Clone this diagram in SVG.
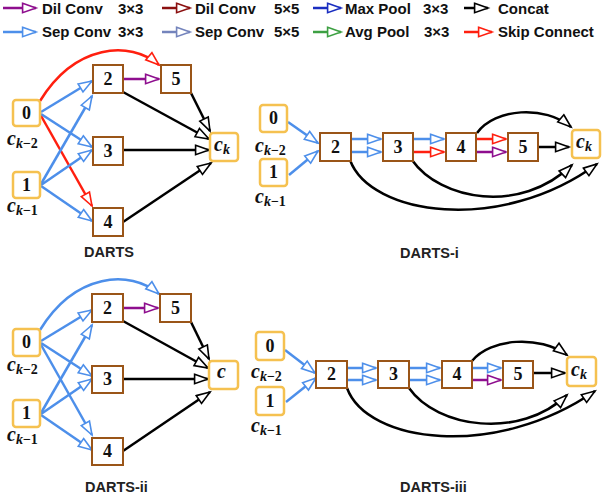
<svg xmlns="http://www.w3.org/2000/svg" width="602" height="501" viewBox="0 0 602 501">
<style>
.leg{font-family:"Liberation Sans",Arial,sans-serif;font-weight:bold;font-size:15px;fill:#111}
.cap{font-family:"Liberation Sans",Arial,sans-serif;font-weight:bold;font-size:14.5px;fill:#222}
.in{fill:#fff;stroke:#F5C150;stroke-width:2.5}
.op{fill:#fff;stroke:#9A5518;stroke-width:2}
.num{font-family:"Liberation Serif","Times New Roman",serif;font-weight:bold;font-size:18px;fill:#111;text-anchor:middle}
.cl{font-family:"Liberation Serif","Times New Roman",serif;font-weight:bold;font-style:italic;font-size:20px;fill:#111}
.sub{font-size:14px}
.up{font-style:normal}
.e{fill:none;stroke-width:2.5}
.b{stroke:#4D8FEA;marker-end:url(#mb)}
.r{stroke:#FF1F0F;marker-end:url(#mr)}
.p{stroke:#8E0E8E;marker-end:url(#mp)}
.k{stroke:#000;marker-end:url(#mk)}
.m{stroke:#8B1010;marker-end:url(#mm)}
.d{stroke:#1A2EC0;marker-end:url(#md)}
.s{stroke:#7484BC;marker-end:url(#ms)}
.g{stroke:#3DA043;marker-end:url(#mg)}
</style>
<defs>
<marker id="mb" markerUnits="userSpaceOnUse" orient="auto" markerWidth="16" markerHeight="12" refX="14.2" refY="5.5" overflow="visible"><path d="M0.8,0.8 L14.2,5.5 L0.8,10.2 Z" fill="#fff" stroke="#4D8FEA" stroke-width="1.6"/></marker>
<marker id="mr" markerUnits="userSpaceOnUse" orient="auto" markerWidth="16" markerHeight="12" refX="14.2" refY="5.5" overflow="visible"><path d="M0.8,0.8 L14.2,5.5 L0.8,10.2 Z" fill="#fff" stroke="#FF1F0F" stroke-width="1.6"/></marker>
<marker id="mp" markerUnits="userSpaceOnUse" orient="auto" markerWidth="16" markerHeight="12" refX="14.2" refY="5.5" overflow="visible"><path d="M0.8,0.8 L14.2,5.5 L0.8,10.2 Z" fill="#fff" stroke="#8E0E8E" stroke-width="1.6"/></marker>
<marker id="mk" markerUnits="userSpaceOnUse" orient="auto" markerWidth="16" markerHeight="12" refX="14.2" refY="5.5" overflow="visible"><path d="M0.8,0.8 L14.2,5.5 L0.8,10.2 Z" fill="#fff" stroke="#000" stroke-width="1.6"/></marker>
<marker id="mm" markerUnits="userSpaceOnUse" orient="auto" markerWidth="16" markerHeight="12" refX="14.2" refY="5.5" overflow="visible"><path d="M0.8,0.8 L14.2,5.5 L0.8,10.2 Z" fill="#fff" stroke="#8B1010" stroke-width="1.6"/></marker>
<marker id="md" markerUnits="userSpaceOnUse" orient="auto" markerWidth="16" markerHeight="12" refX="14.2" refY="5.5" overflow="visible"><path d="M0.8,0.8 L14.2,5.5 L0.8,10.2 Z" fill="#fff" stroke="#1A2EC0" stroke-width="1.6"/></marker>
<marker id="ms" markerUnits="userSpaceOnUse" orient="auto" markerWidth="16" markerHeight="12" refX="14.2" refY="5.5" overflow="visible"><path d="M0.8,0.8 L14.2,5.5 L0.8,10.2 Z" fill="#fff" stroke="#7484BC" stroke-width="1.6"/></marker>
<marker id="mg" markerUnits="userSpaceOnUse" orient="auto" markerWidth="16" markerHeight="12" refX="14.2" refY="5.5" overflow="visible"><path d="M0.8,0.8 L14.2,5.5 L0.8,10.2 Z" fill="#fff" stroke="#3DA043" stroke-width="1.6"/></marker>
</defs>
<rect width="602" height="501" fill="#fff"/>

<g id="legend">
<path class="e p" d="M3,8 L36,8"/>
<text class="leg" x="42" y="14">Dil Conv <tspan x="118">3×3</tspan></text>
<path class="e m" d="M162,8 L190,8"/>
<text class="leg" x="195" y="14">Dil Conv <tspan x="274">5×5</tspan></text>
<path class="e d" d="M313,8 L341,8"/>
<text class="leg" x="345" y="14">Max Pool <tspan x="423">3×3</tspan></text>
<path class="e k" d="M464,8 L488,8"/>
<text class="leg" x="498" y="14">Concat</text>
<path class="e b" d="M3,32 L36,32"/>
<text class="leg" x="42" y="37">Sep Conv <tspan x="118">3×3</tspan></text>
<path class="e s" d="M162,32 L190,32"/>
<text class="leg" x="195" y="37">Sep Conv <tspan x="274">5×5</tspan></text>
<path class="e g" d="M313,32 L341,32"/>
<text class="leg" x="345" y="37">Avg Pool <tspan x="424">3×3</tspan></text>
<path class="e r" d="M464,32 L492,32"/>
<text class="leg" x="498" y="37">Skip Connect</text>
</g>

<!-- DARTS -->
<g id="darts">
<g id="darts-edges">
<path class="e r" d="M40,101 C75,44 130,40 159,65"/>
<path class="e r" d="M40,114 L92,206"/>
<path class="e b" d="M41,112 L92,81"/>
<path class="e b" d="M41,114 L92,147"/>
<path class="e b" d="M41,184 L92,96"/>
<path class="e b" d="M41,185 L92,150"/>
<path class="e b" d="M41,186 L92,221"/>
<path class="e p" d="M123,79 L159,79"/>
<path class="e k" d="M123,92 L209,139"/>
<path class="e k" d="M191,93 L210,131"/>
<path class="e k" d="M123,150 L209,150"/>
<path class="e k" d="M123,222 L211,163"/>
</g>
<g id="d-n0"><rect class="in" x="13" y="100" width="27" height="26" rx="3"/><text class="num" x="26.5" y="119">0</text><text class="cl" x="7" y="145">c<tspan class="sub" dy="3">k<tspan class="up">−2</tspan></tspan></text></g>
<g id="d-n1"><rect class="in" x="13" y="172" width="27" height="26" rx="3"/><text class="num" x="26.5" y="191">1</text><text class="cl" x="7" y="212">c<tspan class="sub" dy="3">k<tspan class="up">−1</tspan></tspan></text></g>
<g id="d-n2"><rect class="op" x="93" y="65" width="30" height="28"/><text class="num" x="108" y="85">2</text></g>
<g id="d-n5"><rect class="op" x="161" y="65" width="30" height="28"/><text class="num" x="176" y="85">5</text></g>
<g id="d-n3"><rect class="op" x="93" y="137" width="30" height="28"/><text class="num" x="108" y="157">3</text></g>
<g id="d-n4"><rect class="op" x="93" y="208" width="30" height="28"/><text class="num" x="108" y="228">4</text></g>
<g id="d-ck"><rect class="in" x="210" y="133" width="28" height="28" rx="3"/><text class="cl" x="214" y="151">c<tspan class="sub" dy="3">k</tspan></text></g>
<text class="cap" x="84" y="257">DARTS</text>
</g>

<!-- DARTS-i -->
<g id="darts-i">
<g id="darts-i-edges">
<path class="e b" d="M288,122 L318,143"/>
<path class="e b" d="M289,175 L318,151"/>
<path class="e b" d="M351,139 L381,139"/>
<path class="e b" d="M351,152 L381,152"/>
<path class="e b" d="M413,139 L444,139"/>
<path class="e r" d="M413,152 L444,152"/>
<path class="e r" d="M476,139 L506,139"/>
<path class="e p" d="M476,152 L506,152"/>
<path class="e k" d="M538,147 L569,147"/>
<path class="e k" d="M477,133 C495,108 545,105 571,127"/>
<path class="e k" d="M412,160 C440,200 520,215 572,165"/>
<path class="e k" d="M350,160 C370,215 500,235 597,164"/>
</g>
<g id="i-n0"><rect class="in" x="260" y="105" width="27" height="27" rx="3"/><text class="num" x="273.5" y="124">0</text><text class="cl" x="255" y="152">c<tspan class="sub" dy="3">k<tspan class="up">−2</tspan></tspan></text></g>
<g id="i-n1"><rect class="in" x="260" y="159" width="27" height="27" rx="3"/><text class="num" x="273.5" y="178">1</text><text class="cl" x="255" y="203">c<tspan class="sub" dy="3">k<tspan class="up">−1</tspan></tspan></text></g>
<g id="i-n2"><rect class="op" x="320" y="133" width="31" height="28"/><text class="num" x="335.5" y="153">2</text></g>
<g id="i-n3"><rect class="op" x="383" y="133" width="30" height="28"/><text class="num" x="398" y="153">3</text></g>
<g id="i-n4"><rect class="op" x="446" y="133" width="30" height="28"/><text class="num" x="461" y="153">4</text></g>
<g id="i-n5"><rect class="op" x="508" y="133" width="30" height="28"/><text class="num" x="523" y="153">5</text></g>
<g id="i-ck"><rect class="in" x="572" y="130" width="28" height="28" rx="3"/><text class="cl" x="576" y="148">c<tspan class="sub" dy="3">k</tspan></text></g>
<text class="cap" x="400" y="258">DARTS-i</text>
</g>

<!-- DARTS-ii -->
<g id="darts-ii">
<g id="darts-ii-edges">
<path class="e b" d="M40,330 C75,273 130,269 159,294"/>
<path class="e b" d="M40,343 L92,435"/>
<path class="e b" d="M41,341 L92,310"/>
<path class="e b" d="M41,343 L92,376"/>
<path class="e b" d="M41,413 L92,325"/>
<path class="e b" d="M41,414 L92,379"/>
<path class="e b" d="M41,415 L92,450"/>
<path class="e p" d="M123,308 L158,308"/>
<path class="e k" d="M123,321 L208,368"/>
<path class="e k" d="M191,322 L209,359"/>
<path class="e k" d="M123,379 L208,379"/>
<path class="e k" d="M123,451 L210,392"/>
</g>
<g id="ii-n0"><rect class="in" x="13" y="329" width="27" height="27" rx="3"/><text class="num" x="26.5" y="348">0</text><text class="cl" x="7" y="371">c<tspan class="sub" dy="3">k<tspan class="up">−2</tspan></tspan></text></g>
<g id="ii-n1"><rect class="in" x="13" y="400" width="27" height="27" rx="3"/><text class="num" x="26.5" y="419">1</text><text class="cl" x="7" y="441">c<tspan class="sub" dy="3">k<tspan class="up">−1</tspan></tspan></text></g>
<g id="ii-n2"><rect class="op" x="92" y="294" width="31" height="28"/><text class="num" x="107.5" y="314">2</text></g>
<g id="ii-n5"><rect class="op" x="160" y="294" width="31" height="28"/><text class="num" x="175.5" y="314">5</text></g>
<g id="ii-n3"><rect class="op" x="92" y="366" width="31" height="27"/><text class="num" x="107.5" y="385">3</text></g>
<g id="ii-n4"><rect class="op" x="92" y="438" width="31" height="27"/><text class="num" x="107.5" y="457">4</text></g>
<g id="ii-c"><rect class="in" x="209" y="361" width="29" height="28" rx="3"/><text class="cl" x="217" y="378">c</text></g>
<text class="cap" x="85" y="492">DARTS-ii</text>
</g>

<!-- DARTS-iii -->
<g id="darts-iii">
<g id="darts-iii-edges">
<path class="e b" d="M285,350 L315,373"/>
<path class="e b" d="M286,402 L316,378"/>
<path class="e b" d="M347,368 L376,368"/>
<path class="e b" d="M347,380 L376,380"/>
<path class="e b" d="M409,368 L440,368"/>
<path class="e b" d="M409,380 L440,380"/>
<path class="e b" d="M472,368 L501,368"/>
<path class="e p" d="M472,380 L501,380"/>
<path class="e k" d="M533,373 L565,373"/>
<path class="e k" d="M472,361 C490,338 540,335 567,355"/>
<path class="e k" d="M409,388 C437,428 520,440 567,395"/>
<path class="e k" d="M347,388 C367,443 495,460 595,391"/>
</g>
<g id="iii-n0"><rect class="in" x="256" y="332" width="28" height="28" rx="3"/><text class="num" x="270" y="352">0</text><text class="cl" x="251" y="378">c<tspan class="sub" dy="3">k<tspan class="up">−2</tspan></tspan></text></g>
<g id="iii-n1"><rect class="in" x="256" y="387" width="28" height="28" rx="3"/><text class="num" x="270" y="407">1</text><text class="cl" x="251" y="432">c<tspan class="sub" dy="3">k<tspan class="up">−1</tspan></tspan></text></g>
<g id="iii-n2"><rect class="op" x="316" y="361" width="31" height="27"/><text class="num" x="331.5" y="380">2</text></g>
<g id="iii-n3"><rect class="op" x="378" y="361" width="31" height="27"/><text class="num" x="393.5" y="380">3</text></g>
<g id="iii-n4"><rect class="op" x="442" y="361" width="30" height="27"/><text class="num" x="457" y="380">4</text></g>
<g id="iii-n5"><rect class="op" x="503" y="361" width="30" height="27"/><text class="num" x="518" y="380">5</text></g>
<g id="iii-ck"><rect class="in" x="567" y="357" width="29" height="29" rx="3"/><text class="cl" x="571" y="376">c<tspan class="sub" dy="3">k</tspan></text></g>
<text class="cap" x="400" y="492">DARTS-iii</text>
</g>
</svg>
